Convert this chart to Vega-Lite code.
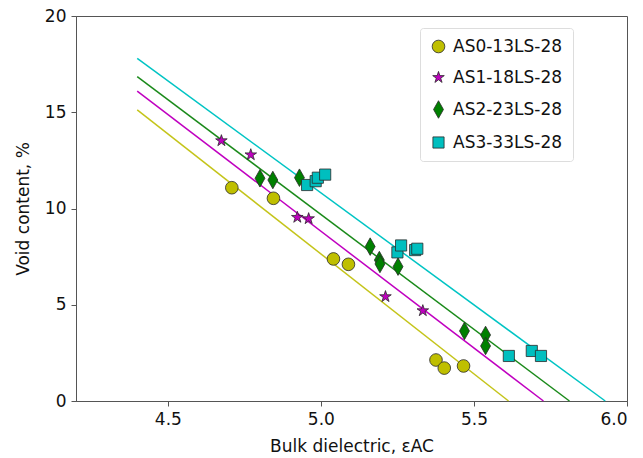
{
  "$schema": "https://vega.github.io/schema/vega-lite/v6.json",
  "width": 551,
  "height": 385,
  "autosize": {"type": "none"},
  "padding": {"left": 76, "top": 16, "right": 16, "bottom": 57},
  "background": "white",
  "config": {
    "font": "DejaVu Sans",
    "view": {"stroke": "#555555", "strokeWidth": 1},
    "axis": {
      "grid": false,
      "domainColor": "#555555",
      "tickColor": "#555555",
      "tickSize": 5,
      "labelFontSize": 17,
      "labelColor": "#111111",
      "titleFontSize": 17,
      "titleFontWeight": "normal",
      "titleColor": "#111111",
      "labelPadding": 5
    },
    "legend": {
      "labelFontSize": 17,
      "labelColor": "#111111",
      "rowPadding": 13,
      "padding": 10,
      "fillColor": "white",
      "strokeColor": "#dddddd",
      "cornerRadius": 3,
      "symbolStrokeColor": "#2a2a2a",
      "symbolStrokeWidth": 0.8,
      "labelOffset": 6
    }
  },
  "datasets": {
    "pts": [
      {"series": "AS0-13LS-28", "x": 4.709, "y": 11.08},
      {"series": "AS0-13LS-28", "x": 4.845, "y": 10.53},
      {"series": "AS0-13LS-28", "x": 5.041, "y": 7.38},
      {"series": "AS0-13LS-28", "x": 5.09, "y": 7.1},
      {"series": "AS0-13LS-28", "x": 5.376, "y": 2.13},
      {"series": "AS0-13LS-28", "x": 5.403, "y": 1.71},
      {"series": "AS0-13LS-28", "x": 5.466, "y": 1.82},
      {"series": "AS1-18LS-28", "x": 4.675, "y": 13.52},
      {"series": "AS1-18LS-28", "x": 4.771, "y": 12.79},
      {"series": "AS1-18LS-28", "x": 4.923, "y": 9.54},
      {"series": "AS1-18LS-28", "x": 4.96, "y": 9.47},
      {"series": "AS1-18LS-28", "x": 5.211, "y": 5.42},
      {"series": "AS1-18LS-28", "x": 5.333, "y": 4.69},
      {"series": "AS2-23LS-28", "x": 4.801, "y": 11.57},
      {"series": "AS2-23LS-28", "x": 4.843, "y": 11.48},
      {"series": "AS2-23LS-28", "x": 4.93, "y": 11.6},
      {"series": "AS2-23LS-28", "x": 5.161, "y": 8.02},
      {"series": "AS2-23LS-28", "x": 5.191, "y": 7.32},
      {"series": "AS2-23LS-28", "x": 5.193, "y": 7.12},
      {"series": "AS2-23LS-28", "x": 5.252, "y": 6.98},
      {"series": "AS2-23LS-28", "x": 5.469, "y": 3.64},
      {"series": "AS2-23LS-28", "x": 5.538, "y": 3.43},
      {"series": "AS2-23LS-28", "x": 5.538, "y": 2.86},
      {"series": "AS3-33LS-28", "x": 4.955, "y": 11.22},
      {"series": "AS3-33LS-28", "x": 4.983, "y": 11.42},
      {"series": "AS3-33LS-28", "x": 4.99, "y": 11.6},
      {"series": "AS3-33LS-28", "x": 5.014, "y": 11.76},
      {"series": "AS3-33LS-28", "x": 5.25, "y": 7.72},
      {"series": "AS3-33LS-28", "x": 5.262, "y": 8.08},
      {"series": "AS3-33LS-28", "x": 5.308, "y": 7.84},
      {"series": "AS3-33LS-28", "x": 5.315, "y": 7.91},
      {"series": "AS3-33LS-28", "x": 5.614, "y": 2.34},
      {"series": "AS3-33LS-28", "x": 5.689, "y": 2.6},
      {"series": "AS3-33LS-28", "x": 5.719, "y": 2.34}
    ],
    "lines": [
      {"series": "AS0-13LS-28", "x": 4.4, "y": 15.12},
      {"series": "AS0-13LS-28", "x": 5.613, "y": 0},
      {"series": "AS1-18LS-28", "x": 4.4, "y": 16.1},
      {"series": "AS1-18LS-28", "x": 5.727, "y": 0},
      {"series": "AS2-23LS-28", "x": 4.4, "y": 16.85},
      {"series": "AS2-23LS-28", "x": 5.812, "y": 0},
      {"series": "AS3-33LS-28", "x": 4.4, "y": 17.8},
      {"series": "AS3-33LS-28", "x": 5.929, "y": 0}
    ]
  },
  "layer": [
    {
      "data": {"name": "lines"},
      "transform": [{"filter": "datum.series === 'AS0-13LS-28'"}],
      "mark": {"type": "line", "strokeWidth": 1.5, "color": "#c4c41a"},
      "encoding": {
        "x": {"field": "x", "type": "quantitative"},
        "y": {"field": "y", "type": "quantitative"}
      }
    },
    {
      "data": {"name": "lines"},
      "transform": [{"filter": "datum.series === 'AS1-18LS-28'"}],
      "mark": {"type": "line", "strokeWidth": 1.5, "color": "#c000c0"},
      "encoding": {
        "x": {"field": "x", "type": "quantitative"},
        "y": {"field": "y", "type": "quantitative"}
      }
    },
    {
      "data": {"name": "lines"},
      "transform": [{"filter": "datum.series === 'AS2-23LS-28'"}],
      "mark": {"type": "line", "strokeWidth": 1.5, "color": "#1a8a1a"},
      "encoding": {
        "x": {"field": "x", "type": "quantitative"},
        "y": {"field": "y", "type": "quantitative"}
      }
    },
    {
      "data": {"name": "lines"},
      "transform": [{"filter": "datum.series === 'AS3-33LS-28'"}],
      "mark": {"type": "line", "strokeWidth": 1.5, "color": "#00c4c4"},
      "encoding": {
        "x": {"field": "x", "type": "quantitative"},
        "y": {"field": "y", "type": "quantitative"}
      }
    },
    {
      "data": {"name": "pts"},
      "mark": {"type": "point", "filled": true, "opacity": 1, "stroke": "#2a2a2a", "strokeWidth": 0.8},
      "encoding": {
        "x": {
          "field": "x", "type": "quantitative",
          "scale": {"domain": [4.2, 6.0], "nice": false, "zero": false},
          "axis": {"values": [4.5, 5.0, 5.5, 6.0], "format": ".1f", "title": "Bulk dielectric, εAC", "titlePadding": 11}
        },
        "y": {
          "field": "y", "type": "quantitative",
          "scale": {"domain": [0, 20], "nice": false},
          "axis": {"values": [0, 5, 10, 15, 20], "title": "Void content, %", "titlePadding": 12}
        },
        "color": {
          "field": "series", "type": "nominal",
          "scale": {"domain": ["AS0-13LS-28", "AS1-18LS-28", "AS2-23LS-28", "AS3-33LS-28"], "range": ["#bfbf00", "#bf00bf", "#008000", "#00bfbf"]},
          "legend": {"title": null, "orient": "none", "legendX": 344, "legendY": 12}
        },
        "shape": {
          "field": "series", "type": "nominal",
          "scale": {"domain": ["AS0-13LS-28", "AS1-18LS-28", "AS2-23LS-28", "AS3-33LS-28"], "range": ["circle", "M0,-1L0.225,-0.309L0.951,-0.309L0.363,0.118L0.588,0.809L0,0.382L-0.588,0.809L-0.363,0.118L-0.951,-0.309L-0.225,-0.309Z", "M0,-1.5L0.85,0L0,1.5L-0.85,0Z", "square"]},
          "legend": {"title": null, "orient": "none", "legendX": 344, "legendY": 12}
        },
        "size": {
          "field": "series", "type": "nominal",
          "scale": {"domain": ["AS0-13LS-28", "AS1-18LS-28", "AS2-23LS-28", "AS3-33LS-28"], "range": [160, 125, 200, 150]},
          "legend": {"title": null, "orient": "none", "legendX": 344, "legendY": 12}
        }
      }
    }
  ]
}
